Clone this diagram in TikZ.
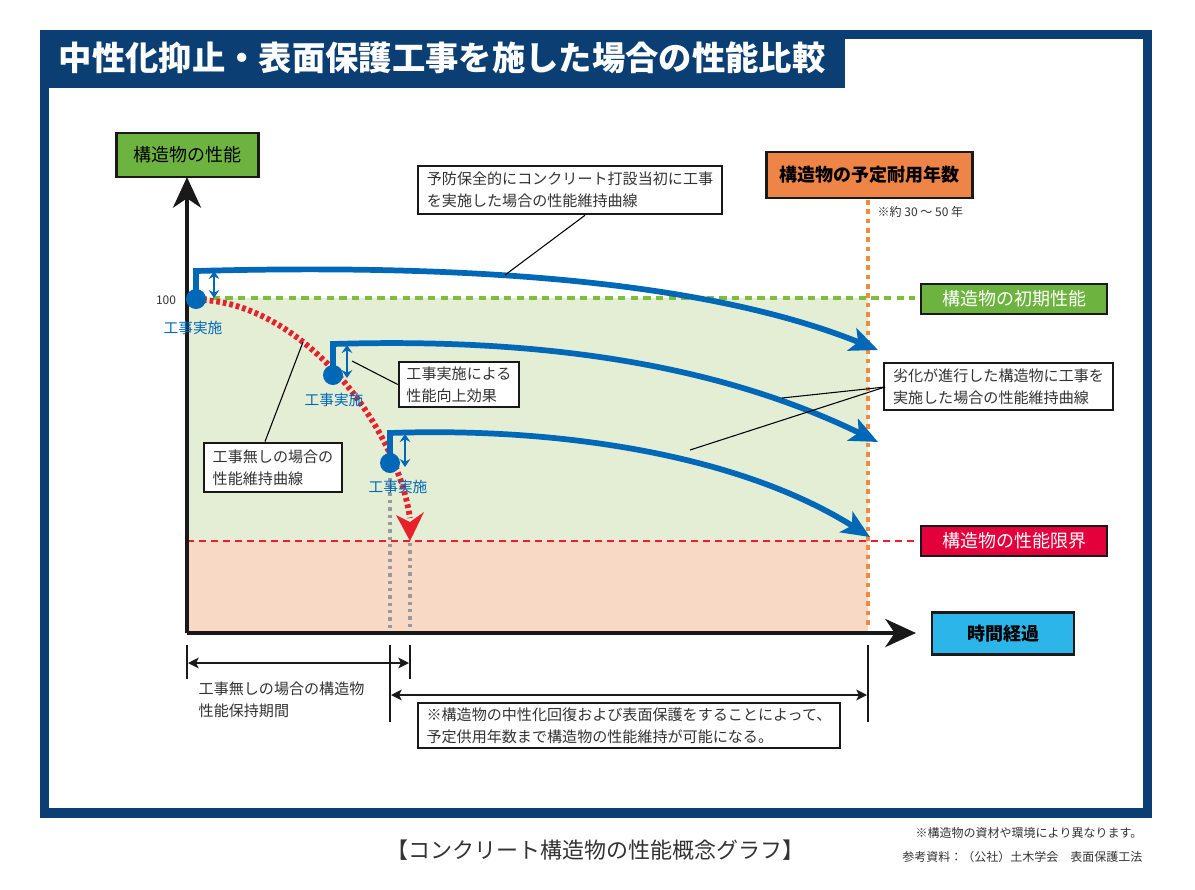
\documentclass[tikz,border=0pt]{standalone}
\usepackage{fontspec}
\setmainfont{Noto Sans CJK JP}
\usetikzlibrary{arrows.meta}
\definecolor{navy}{HTML}{0B3F73}
\definecolor{lgreen}{HTML}{E3EED5}
\definecolor{salmon}{HTML}{F8D9C5}
\definecolor{gbox}{HTML}{6DB33F}
\definecolor{gdash}{HTML}{7DBE3C}
\definecolor{obox}{HTML}{EE8547}
\definecolor{odot}{HTML}{F08A3C}
\definecolor{rbox}{HTML}{E4003A}
\definecolor{rdash}{HTML}{E8202A}
\definecolor{cbox}{HTML}{2CB5E8}
\definecolor{bl}{HTML}{0068B7}
\definecolor{txt}{HTML}{333333}
\definecolor{gdot}{HTML}{9A9A9A}
\tikzset{
  colbox/.style={draw=black!90, line width=2.1pt, inner sep=0pt, align=center},
  notebox/.style={draw=black!90, line width=1.9pt, fill=white, inner sep=0pt, align=left, text=txt, font=\fontsize{11.3}{16.5}\selectfont},
  bigfont/.style={font=\fontsize{13.5}{16}\selectfont},
  bluecurve/.style={draw=bl, line width=4.3pt, line join=miter, -{Stealth[length=21pt,width=18pt,inset=5pt]}},
  dbl/.style={draw=bl, line width=2.1pt, {Stealth[length=6pt,width=8pt,inset=2pt]}-{Stealth[length=6pt,width=8pt,inset=2pt]}},
  dot/.style={circle, fill=bl, inner sep=0pt, minimum size=15pt},
  doer/.style={text=bl, font=\fontsize{11}{13}\selectfont},
  leader/.style={draw=black, line width=0.8pt},
  dim/.style={draw=black!90, line width=2.1pt, {Stealth[length=8pt,width=8pt,inset=2pt]}-{Stealth[length=8pt,width=8pt,inset=2pt]}},
  tick/.style={draw=black!90, line width=2pt},
  axisline/.style={draw=black!90, line width=3pt, -{Stealth[length=23pt,width=21pt,inset=7pt]}}
}
\begin{document}
\begin{tikzpicture}[x=0.75pt,y=-0.75pt]
\useasboundingbox (0,0) rectangle (1195,889);
% frame
\fill[navy] (40,30) rectangle (1152,818);
\fill[white] (49,39) rectangle (1143,808);
\fill[navy] (40,30) rectangle (845,88);
\node[anchor=west, text=white, font=\bfseries\fontsize{25}{25}\selectfont] (title) at (54,58) {中性化抑止・表面保護工事を施した場合の性能比較};
% areas
\fill[lgreen] (187,298) rectangle (868,541);
\fill[salmon] (187,541) rectangle (868,633);
% reference lines
\coordinate (g0) at (200,298); \coordinate (g1) at (915,298);
\coordinate (r0) at (187,541); \coordinate (r1) at (915,541);
\draw[gdash, line width=2.8pt, dash pattern=on 5.5pt off 4pt] (g0) -- (g1);
\draw[rdash, line width=2.2pt, dash pattern=on 5pt off 4pt] (r0) -- (r1);
\coordinate (o0) at (868,200); \coordinate (o1) at (868,628);
\draw[odot, line width=2.8pt, dash pattern=on 3.5pt off 3.5pt] (o0) -- (o1);
\coordinate (v1a) at (390,478); \coordinate (v1b) at (390,630);
\coordinate (v2a) at (410,543); \coordinate (v2b) at (410,630);
\draw[gdot, line width=2.4pt, dash pattern=on 2.5pt off 3pt] (v1a) -- (v1b);
\draw[gdot, line width=2.4pt, dash pattern=on 2.5pt off 3pt] (v2a) -- (v2b);
% axes
\coordinate (orig) at (187,633);
\coordinate (ytip) at (187,177);
\coordinate (xtip) at (916,633);
\draw[axisline] (orig) -- (ytip);
\draw[axisline] (orig) -- (xtip);
% axis boxes
\node[colbox, fill=gbox, bigfont, minimum width=107pt, minimum height=33pt] (yl) at (187.5,155) {構造物の性能};
\node[colbox, fill=obox, font=\bfseries\fontsize{13.5}{16}\selectfont, minimum width=154pt, minimum height=34.5pt] (life) at (869.5,175) {構造物の予定耐用年数};
\node[anchor=west, text=txt, font=\fontsize{9}{11}\selectfont] (yrs) at (873,212) {※約 30 ～ 50 年};
\node[colbox, fill=gbox, text=white, bigfont, minimum width=139.5pt, minimum height=22.5pt] (init) at (1014,299) {構造物の初期性能};
\node[colbox, fill=rbox, text=white, bigfont, minimum width=139.5pt, minimum height=22.5pt] (limit) at (1014,541) {構造物の性能限界};
\node[colbox, fill=cbox, font=\bfseries\fontsize{13.5}{16}\selectfont, minimum width=106.5pt, minimum height=32pt] (time) at (1003,633.5) {時間経過};
\node[text=txt, font=\fontsize{9}{11}\selectfont] (h100) at (166,300) {100};
% red no-work curve
\coordinate (rc0) at (203,300);
\coordinate (rc1) at (410,541);
\coordinate (rc1a) at (410,518);
\draw[rdash, line width=4.4pt, dash pattern=on 2.8pt off 2.2pt] (rc0) .. controls (300,305) and (395,420) .. (rc1a);
\fill[rdash] (rc1) -- (396,515) -- (410,522) -- (424,512) -- cycle;
% blue curves
\coordinate (b1s) at (196,299); \coordinate (b1c) at (196,271); \coordinate (b1e) at (878,350);
\coordinate (b2s) at (333,375); \coordinate (b2c) at (333,344); \coordinate (b2e) at (878,442);
\coordinate (b3s) at (390,463); \coordinate (b3c) at (390,433); \coordinate (b3e) at (870,537);
\draw[bluecurve] (b1s) -- (b1c) .. controls (450,264) and (700,278) .. (b1e);
\draw[bluecurve] (b2s) -- (b2c) .. controls (560,337) and (730,370) .. (b2e);
\draw[bluecurve] (b3s) -- (b3c) .. controls (560,427) and (740,455) .. (b3e);
% improvement arrows
\coordinate (d1a) at (214,271); \coordinate (d1b) at (214,298);
\coordinate (d2a) at (347,345); \coordinate (d2b) at (347,378);
\coordinate (d3a) at (405,434); \coordinate (d3b) at (405,467);
\draw[dbl] (d1a) -- (d1b);
\draw[dbl] (d2a) -- (d2b);
\draw[dbl] (d3a) -- (d3b);
% dots
\node[dot] (p1) at (196,299) {};
\node[dot] (p2) at (333,375) {};
\node[dot] (p3) at (390,463) {};
\node[doer] (w1) at (193,328) {工事実施};
\node[doer] (w2) at (334,400) {工事実施};
\node[doer] (w3) at (398,487) {工事実施};
% note boxes
\node[notebox, minimum width=228pt, minimum height=36pt] (n1) at (570,190) {予防保全的にコンクリート打設当初に工事\\を実施した場合の性能維持曲線};
\node[notebox, minimum width=90pt, minimum height=34pt] (n2) at (459,384.5) {工事実施による\\性能向上効果};
\node[notebox, minimum width=103.5pt, minimum height=37pt] (n3) at (273,467.5) {工事無しの場合の\\性能維持曲線};
\node[notebox, minimum width=172pt, minimum height=35pt] (n4) at (998.5,386.5) {劣化が進行した構造物に工事を\\実施した場合の性能維持曲線};
% leaders
\coordinate (c1) at (505,275);
\coordinate (c2) at (352,361);
\coordinate (c3) at (303,342);
\coordinate (c4a) at (782,398);
\coordinate (c4b) at (690,450);
\coordinate (n4l) at (885,387);
\draw[leader] (n1.south) ++(15,0) -- (c1);
\draw[leader] (n2.west) -- (c2);
\draw[leader] (n3.north) ++(-8,0) -- (c3);
\draw[leader] (n4l) -- (c4a);
\draw[leader] (n4l) -- (c4b);
% bottom ticks and dimensions
\coordinate (t0a) at (187,645); \coordinate (t0b) at (187,679);
\coordinate (t1a) at (390,645); \coordinate (t1b) at (390,722);
\coordinate (t2a) at (410,645); \coordinate (t2b) at (410,679);
\coordinate (t3a) at (868,645); \coordinate (t3b) at (868,722);
\draw[tick] (t0a) -- (t0b);
\draw[tick] (t1a) -- (t1b);
\draw[tick] (t2a) -- (t2b);
\draw[tick] (t3a) -- (t3b);
\coordinate (dA0) at (188,663); \coordinate (dA1) at (409,663);
\coordinate (dB0) at (391,695); \coordinate (dB1) at (867,695);
\draw[dim] (dA0) -- (dA1);
\draw[dim] (dB0) -- (dB1);
\node[anchor=north west, align=left, text=txt, font=\fontsize{11.3}{16.5}\selectfont] (period) at (194,677) {工事無しの場合の構造物\\性能保持期間};
\node[notebox, minimum width=316.5pt, minimum height=34pt] (n5) at (629,725.5) {※構造物の中性化回復および表面保護をすることによって、\\予定供用年数まで構造物の性能維持が可能になる。};
% captions
\node[text=txt, font=\fontsize{16.5}{20}\selectfont] (cap) at (595,850) {【コンクリート構造物の性能概念グラフ】};
\node[anchor=east, text=txt, font=\fontsize{9}{11}\selectfont] (f1) at (1147,833) {※構造物の資材や環境により異なります。};
\node[anchor=east, text=txt, font=\fontsize{9}{11}\selectfont] (f2) at (1147,857) {参考資料：（公社）土木学会　表面保護工法};
\end{tikzpicture}
\end{document}
